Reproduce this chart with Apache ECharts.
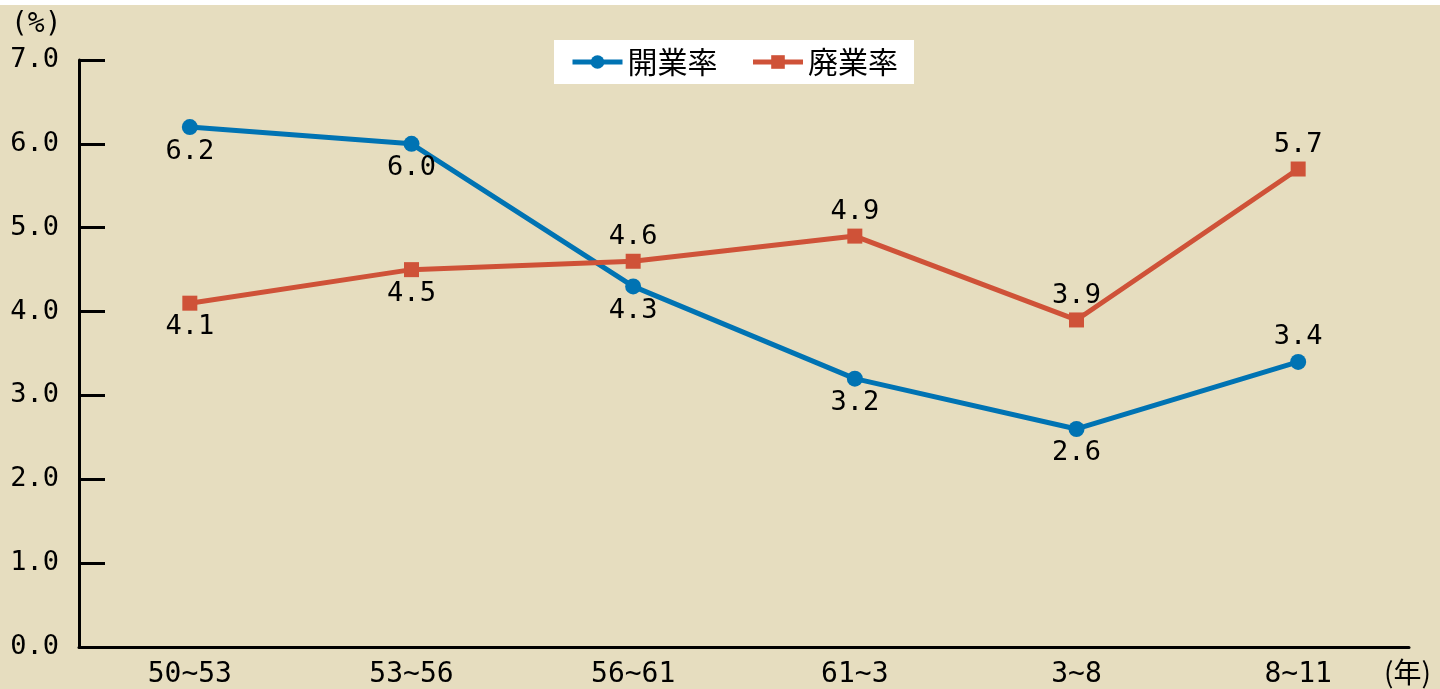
<!DOCTYPE html>
<html><head><meta charset="utf-8">
<script src="https://cdn.jsdelivr.net/npm/echarts@6/dist/echarts.min.js"></script>
<style>html,body{margin:0;padding:0;background:#e6ddbf}#c{width:1440px;height:689px}</style>
</head><body><div id="c"></div>
<script>
const categories = ['50~53','53~56','56~61','61~3','3~8','8~11'];
const openRate = [6.2, 6.0, 4.3, 3.2, 2.6, 3.4];
const closeRate = [4.1, 4.5, 4.6, 4.9, 3.9, 5.7];
const openLabelPos = ['bottom','bottom','bottom','bottom','bottom','top'];
const closeLabelPos = ['bottom','bottom','top','top','top','top'];
const seriesNames = ['開業率','廃業率'];

const numFont = '"DejaVu Sans Mono", monospace';
const chart = echarts.init(document.getElementById('c'));
function mk(vals, pos) {
  return vals.map((v, i) => ({value: v, label: {position: pos[i]}}));
}
chart.setOption({
  backgroundColor: '#e6ddbf',
  animation: false,
  grid: {left: 79, right: 31, top: 60, bottom: 42},
  legend: {
    left: 554, top: 40, backgroundColor: '#ffffff',
    padding: [7, 16, 7, 16], itemGap: 33, itemWidth: 50, itemHeight: 17,
    lineStyle: {width: 5},
    textStyle: {fontFamily: '"Noto Sans CJK JP"', fontSize: 30, color: '#000'},
    data: seriesNames
  },
  xAxis: {
    type: 'category', data: categories, boundaryGap: true,
    axisLine: {lineStyle: {color: '#000', width: 3}},
    axisTick: {inside: true, length: 17, lineStyle: {color: '#000', width: 3}},
    axisLabel: {fontFamily: numFont, fontSize: 28, color: '#000', margin: 14}
  },
  yAxis: {
    type: 'value', min: 0, max: 7, interval: 1,
    splitLine: {show: false},
    axisLine: {show: true, lineStyle: {color: '#000', width: 3}},
    axisTick: {show: true, inside: true, length: 26, lineStyle: {color: '#000', width: 3}},
    axisLabel: {fontFamily: numFont, fontSize: 27, color: '#000', margin: 20,
      formatter: v => v.toFixed(1)}
  },
  graphic: [
    {type: 'rect', left: 0, top: 0, shape: {width: 1440, height: 5}, style: {fill: '#fff'}},
    {type: 'text', left: 11, top: 11, style: {text: '(%)', font: '28px "DejaVu Sans Mono"', fill: '#000'}},
    {type: 'text', left: 1384, top: 658, style: {text: '(年)', font: '28px "Noto Sans CJK JP"', fill: '#000'}}
  ],
  series: [
    {
      name: seriesNames[0], type: 'line', data: mk(openRate, openLabelPos),
      symbol: 'circle', symbolSize: 16,
      itemStyle: {color: '#0073b3'}, lineStyle: {color: '#0073b3', width: 5},
      label: {show: true, fontFamily: numFont, fontSize: 27, color: '#000', distance: 3,
        formatter: p => p.value.toFixed(1)}
    },
    {
      name: seriesNames[1], type: 'line', data: mk(closeRate, closeLabelPos),
      symbol: 'rect', symbolSize: 15,
      itemStyle: {color: '#cf5238'}, lineStyle: {color: '#cf5238', width: 5},
      label: {show: true, fontFamily: numFont, fontSize: 27, color: '#000', distance: 3,
        formatter: p => p.value.toFixed(1)}
    }
  ]
});
</script></body></html>
